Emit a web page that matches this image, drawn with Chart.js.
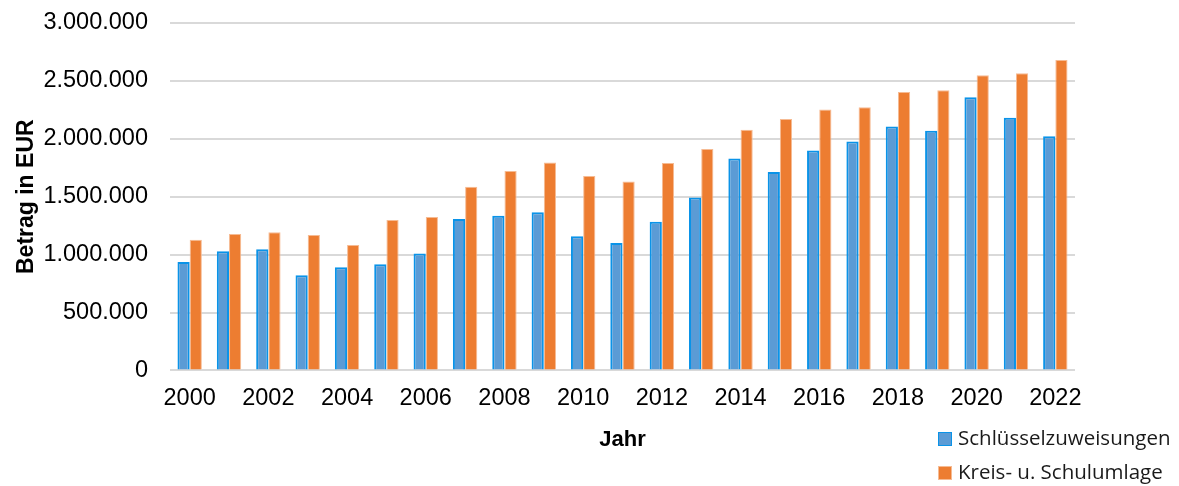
<!DOCTYPE html>
<html lang="de">
<head>
<meta charset="utf-8">
<script src="https://cdn.jsdelivr.net/npm/chart.js@4"></script>
<style>
  html, body { margin: 0; padding: 0; background: #fff; }
  #wrap { position: relative; width: 1179px; height: 486px; }
  #legende { position: absolute; left: 938px; top: 422px; font-family: "Open Sans", sans-serif; font-size: 20.5px; color: #1a1a1a; }
  #legende div { height: 34px; line-height: 30px; white-space: nowrap; }
  #legende span.box { display: inline-block; width: 14px; height: 14px; margin-right: 6px; vertical-align: -1px; box-sizing: border-box; }
</style>
</head>
<body>
<div id="wrap">
  <canvas id="chart"></canvas>
  <div id="legende"></div>
</div>
<script>
// Jahre
var jahre = ["2000", "2001", "2002", "2003", "2004", "2005", "2006", "2007", "2008", "2009", "2010", "2011",
  "2012", "2013", "2014", "2015", "2016", "2017", "2018", "2019", "2020", "2021", "2022"];

// Schlüsselzuweisungen (EUR)
var schluessel = [937000, 1028000, 1046000, 822000, 890000, 916000, 1009000, 1308000, 1336000, 1365000, 1158000, 1101000,
  1284000, 1494000, 1830000, 1713000, 1899000, 1977000, 2106000, 2069000, 2359000, 2181000, 2023000];

// Kreis- u. Schulumlage (EUR)
var umlage = [1129000, 1178000, 1192000, 1170000, 1083000, 1299000, 1325000, 1586000, 1721000, 1796000, 1678000, 1632000,
  1790000, 1911000, 2078000, 2172000, 2253000, 2273000, 2405000, 2420000, 2549000, 2566000, 2681000];

var yTicks = [0, 500000, 1000000, 1500000, 2000000, 2500000, 3000000];

function tausender(v) {
  return String(v).replace(/\B(?=(\d{3})+(?!\d))/g, ".");
}

var schrift = "Liberation Sans, Arial";

var ctx = document.getElementById("chart").getContext("2d");
var chart = new Chart(ctx, {
  type: "bar",
  data: {
    labels: jahre,
    datasets: [
      {
        label: "Schlüsselzuweisungen",
        data: schluessel,
        backgroundColor: "#5b9bd5",
        borderColor: "#0a93e8",
        borderWidth: 2,
        borderSkipped: "bottom",
      },
      {
        label: "Kreis- u. Schulumlage",
        data: umlage,
        backgroundColor: "#ed7d31",
        borderColor: "#f6bb93",
        borderWidth: 1,
        borderSkipped: "bottom",
      },
    ],
  },
  options: {
    responsive: true,
    maintainAspectRatio: false,
    animation: false,
    layout: { padding: { top: 23, right: 104, bottom: 33, left: 0 } },
    datasets: { bar: { categoryPercentage: 0.62, barPercentage: 1.0 } },
    plugins: {
      legend: { display: false },
      tooltip: { enabled: false },
    },
    scales: {
      x: {
        grid: { display: false, drawTicks: false },
        border: { display: false },
        ticks: {
          autoSkip: false,
          maxRotation: 0,
          padding: 14,
          color: "#000",
          font: { family: schrift, size: 23.5 },
          callback: function (val, i) {
            return i % 2 === 0 ? jahre[i] : "";
          },
        },
        title: {
          display: true,
          text: "Jahr",
          color: "#000",
          font: { family: schrift, size: 22, weight: "bold" },
          padding: { top: 0, bottom: 0 },
        },
      },
      y: {
        min: 0,
        max: 3000000,
        afterBuildTicks: function (axis) {
          axis.ticks = yTicks.map(function (v) { return { value: v }; });
        },
        afterFit: function (axis) {
          axis.width = 170;
          // Diagrammfläche oben nicht durch die Beschriftung verschieben
          axis.paddingTop = 0;
          axis.paddingBottom = 0;
        },
        grid: { color: "#d9d9d9", lineWidth: 2, drawTicks: false },
        border: { display: false },
        ticks: {
          padding: 22,
          color: "#000",
          font: { family: schrift, size: 23.5 },
          callback: function (v) {
            return tausender(v);
          },
        },
        title: {
          display: true,
          text: "Betrag in EUR",
          color: "#000",
          font: { family: schrift, size: 23, weight: "bold" },
          padding: { top: 13, bottom: 0 },
        },
      },
    },
  },
});

// Legende unten rechts, untereinander
var legende = document.getElementById("legende");
chart.data.datasets.forEach(function (ds) {
  var zeile = document.createElement("div");
  var box = document.createElement("span");
  box.className = "box";
  box.style.background = ds.backgroundColor;
  box.style.border = "1px solid " + ds.borderColor;
  zeile.appendChild(box);
  zeile.appendChild(document.createTextNode(ds.label));
  legende.appendChild(zeile);
});
</script>
</body>
</html>
